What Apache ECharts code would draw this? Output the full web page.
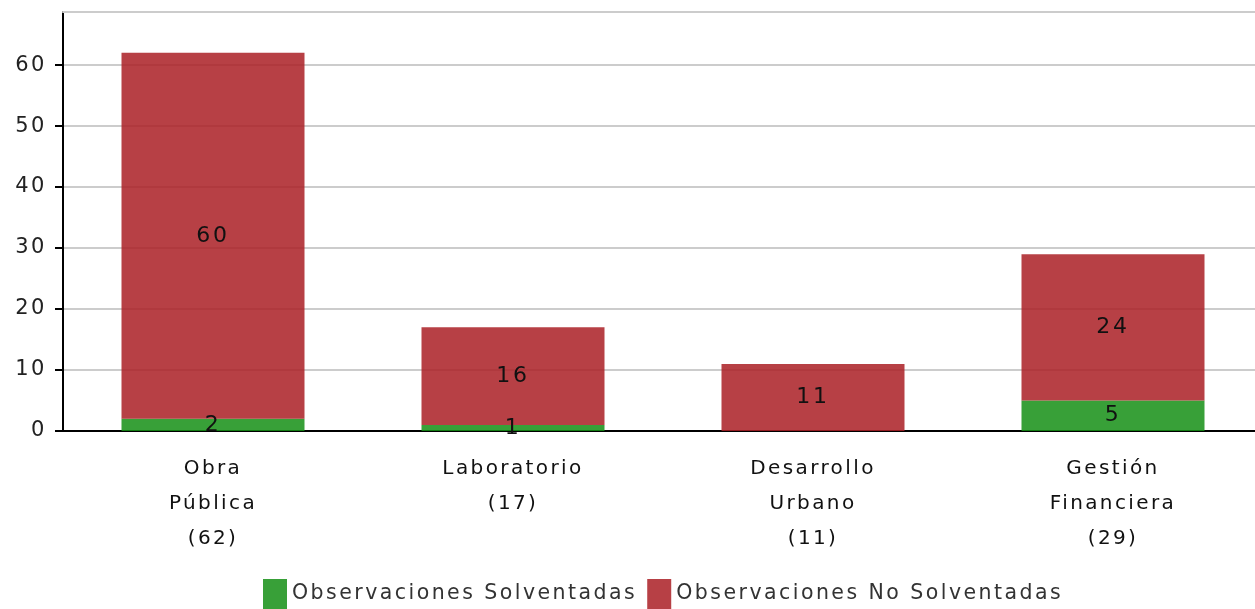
<!DOCTYPE html>
<html><head><meta charset="utf-8">
<script src="https://cdn.jsdelivr.net/npm/echarts@6/dist/echarts.min.js"></script>
<style>html,body{margin:0;padding:0;background:#fff;overflow:hidden}#c{width:1263px;height:609px}</style>
</head><body><div id="c"></div>
<script>
const categories = ['Obra\nPública\n(62)', 'Laboratorio\n(17)', 'Desarrollo\nUrbano\n(11)', 'Gestión\nFinanciera\n(29)'];
const solventadas = [2, 1, 0, 5];
const noSolventadas = [60, 16, 11, 24];
const seriesNames = ['Observaciones Solventadas', 'Observaciones No Solventadas'];
const yTicks = [0, 10, 20, 30, 40, 50, 60];

// wide letter spacing like the reference's text
(function () {
  const P = CanvasRenderingContext2D.prototype;
  const of = P.fillText, om = P.measureText;
  function sp(ctx) {
    const m = /(\d+(?:\.\d+)?)px/.exec(ctx.font);
    ctx.letterSpacing = (m ? (+m[1] * 0.12).toFixed(2) : '2') + 'px';
  }
  P.fillText = function () { sp(this); return of.apply(this, arguments); };
  P.measureText = function () { sp(this); return om.apply(this, arguments); };
})();

const FONT = 'DejaVu Sans';
const chart = echarts.init(document.getElementById('c'));
const lbl = {
  show: true, position: 'inside', color: '#111', fontSize: 22, fontFamily: FONT,
  formatter: p => p.value === 0 ? '' : String(p.value)
};
chart.setOption({
  animation: false,
  grid: { left: 63, right: 0, top: 12, bottom: 178 },
  legend: {
    bottom: 0, left: 263, itemWidth: 24, itemHeight: 30, itemGap: 10, padding: 0,
    icon: 'rect',
    textStyle: { fontSize: 20.5, color: '#333', fontFamily: FONT },
    data: seriesNames
  },
  xAxis: [{
    type: 'category', data: categories,
    axisLine: { lineStyle: { color: '#000', width: 2 } },
    axisTick: { alignWithLabel: true, length: 8, lineStyle: { color: '#000', width: 2 } },
    axisLabel: { fontSize: 20, color: '#111', lineHeight: 35, margin: 20, fontFamily: FONT, interval: 0 }
  }, {
    type: 'category', position: 'top', data: categories,
    axisLine: { lineStyle: { color: '#ccc', width: 2 } },
    axisTick: { show: false }, axisLabel: { show: false }
  }],
  yAxis: {
    type: 'value', min: 0, max: 68.7, interval: 10,
    axisLine: { show: true, lineStyle: { color: '#000', width: 2 } },
    axisTick: { show: true, length: 8, customValues: yTicks, lineStyle: { color: '#000', width: 2 } },
    axisLabel: { fontSize: 21, color: '#222', margin: 16, fontFamily: FONT, customValues: yTicks },
    splitLine: { lineStyle: { color: '#ccc', width: 2 } }
  },
  series: [{
    name: seriesNames[0], type: 'bar', stack: 't', data: solventadas, barWidth: 183,
    itemStyle: { color: 'rgba(21,143,21,0.85)' }, label: lbl
  }, {
    name: seriesNames[1], type: 'bar', stack: 't', data: noSolventadas, barWidth: 183,
    itemStyle: { color: 'rgba(170,30,36,0.85)' }, label: lbl
  }]
});
</script></body></html>
